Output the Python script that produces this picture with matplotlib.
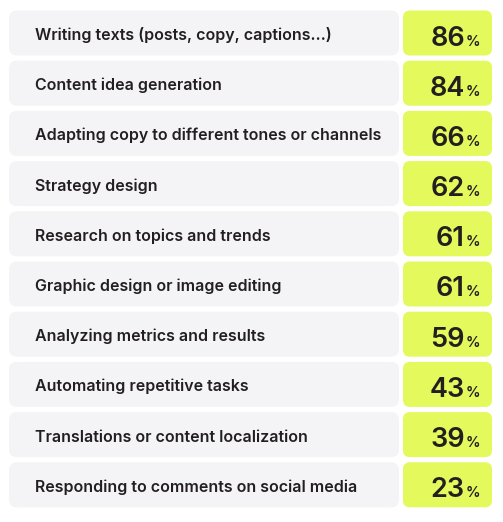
import matplotlib
matplotlib.use('Agg')
import matplotlib.pyplot as plt
from matplotlib.patches import FancyBboxPatch

# Survey results: share of respondents using AI for each task
tasks = [
    'Writing texts (posts, copy, captions…)',
    'Content idea generation',
    'Adapting copy to different tones or channels',
    'Strategy design',
    'Research on topics and trends',
    'Graphic design or image editing',
    'Analyzing metrics and results',
    'Automating repetitive tasks',
    'Translations or content localization',
    'Responding to comments on social media',
]
percentages = [86, 84, 66, 62, 61, 61, 59, 43, 39, 23]

W, H = 503, 522
GRAY = '#f4f4f6'
LIME = '#e4f95c'
INK = '#231f20'

fig = plt.figure(figsize=(W / 100, H / 100), dpi=100)
ax = fig.add_axes([0, 0, 1, 1])
ax.set_xlim(0, W)
ax.set_ylim(H, 0)
ax.axis('off')

top, pitch, box_h = 10.5, 50.2, 45
for i, (task, pct) in enumerate(zip(tasks, percentages)):
    y0 = top + i * pitch
    ax.add_patch(FancyBboxPatch((9, y0), 390, box_h,
                                boxstyle='round,pad=0,rounding_size=8',
                                fc=GRAY, ec='none'))
    ax.add_patch(FancyBboxPatch((403, y0), 89, box_h,
                                boxstyle='round,pad=0,rounding_size=7',
                                fc=LIME, ec='none'))
    ax.text(35, y0 + 29.5, task, ha='left', va='baseline',
            fontsize=11.5, fontfamily='Inter', fontweight='semibold', color=INK)
    ax.text(465, y0 + 35, str(pct), ha='right', va='baseline',
            fontsize=19.5, fontfamily='Inter', fontweight='semibold', color=INK)
    ax.text(466, y0 + 35, '%', ha='left', va='baseline',
            fontsize=10.5, fontfamily='Inter', fontweight='semibold', color=INK)

fig.savefig('out.png', dpi=100)
